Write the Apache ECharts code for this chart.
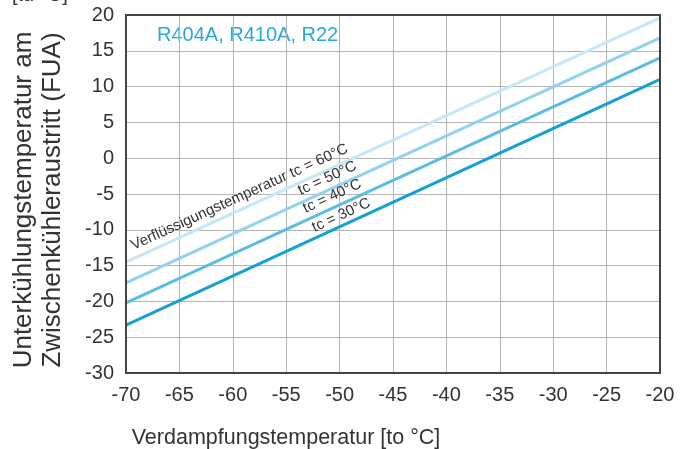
<!DOCTYPE html>
<html><head><meta charset="utf-8">
<script src="https://cdn.jsdelivr.net/npm/echarts@6/dist/echarts.min.js"></script>
<style>html,body{margin:0;padding:0;background:#fff}#c{width:688px;height:449px}</style>
</head><body><div id="c"></div>
<script>
const xValues = [-70, -20];
const tc30 = [-23.3, 11.0];
const tc40 = [-20.2, 14.0];
const tc50 = [-17.4, 16.8];
const tc60 = [-14.5, 19.6];
const seriesNames = ['tc = 30°C', 'tc = 40°C', 'tc = 50°C', 'tc = 60°C'];
const seriesColors = ['#16a0d4', '#5cbde3', '#93d2ee', '#c6e7f5'];
const seriesData = [tc30, tc40, tc50, tc60];

const chart = echarts.init(document.getElementById('c'));
const font = 'Liberation Sans, Arial, sans-serif';
const deg = Math.PI / 180;
const ang = 24.5 * deg;
chart.setOption({
  animation: false,
  backgroundColor: '#fff',
  grid: {left: 126, right: 28, top: 15, bottom: 76, show: false},
  xAxis: {
    type: 'value', min: -70, max: -20, interval: 5,
    axisLine: {show: false}, axisTick: {show: false},
    splitLine: {show: true, lineStyle: {color: '#b5b5b5', width: 1}},
    axisLabel: {color: '#333', fontSize: 20, fontFamily: font, margin: 12}
  },
  yAxis: {
    type: 'value', min: -30, max: 20, interval: 5,
    axisLine: {show: false}, axisTick: {show: false},
    splitLine: {show: true, lineStyle: {color: '#b5b5b5', width: 1}},
    axisLabel: {color: '#333', fontSize: 20, fontFamily: font, margin: 12}
  },
  series: seriesData.map((d, i) => ({
    type: 'line', name: seriesNames[i], showSymbol: false, silent: true,
    data: d.map((v, j) => [xValues[j], v]),
    lineStyle: {color: seriesColors[i], width: 3}, z: 5 - i
  })),
  graphic: [
    {type: 'rect', shape: {x: 126, y: 15, width: 534, height: 358}, style: {fill: 'none', stroke: '#444', lineWidth: 2}, z: 10},
    {type: 'text', x: 12, y: -15, style: {text: '[tu °C]', fill: '#333', font: '20px ' + font}},
    {type: 'text', x: 157, y: 35, style: {text: 'R404A, R410A, R22', fill: '#2aa8dc', font: '20px ' + font, textVerticalAlign: 'middle', verticalAlign: 'middle'}},
    {type: 'text', x: 38, y: 200, rotation: Math.PI / 2,
     style: {text: 'Unterkühlungstemperatur am\nZwischenkühleraustritt (FUA)', fill: '#333', font: '26px ' + font, lineHeight: 29,
             textAlign: 'center', align: 'center', textVerticalAlign: 'middle', verticalAlign: 'middle'}},
    {type: 'text', x: 286, y: 438, style: {text: 'Verdampfungstemperatur [to °C]', fill: '#333', font: '21.5px ' + font,
             textAlign: 'center', align: 'center', textVerticalAlign: 'middle', verticalAlign: 'middle'}},
    {type: 'text', x: 135, y: 253, rotation: ang, z: 20,
     style: {text: 'Verflüssigungstemperatur tc = 60°C', fill: '#333', font: '15px ' + font, textVerticalAlign: 'bottom', verticalAlign: 'bottom'}},
    {type: 'text', x: 302, y: 198, rotation: ang, z: 20,
     style: {text: 'tc = 50°C', fill: '#333', font: '15px ' + font, textVerticalAlign: 'bottom', verticalAlign: 'bottom'}},
    {type: 'text', x: 307, y: 216, rotation: ang, z: 20,
     style: {text: 'tc = 40°C', fill: '#333', font: '15px ' + font, textVerticalAlign: 'bottom', verticalAlign: 'bottom'}},
    {type: 'text', x: 316, y: 235, rotation: ang, z: 20,
     style: {text: 'tc = 30°C', fill: '#333', font: '15px ' + font, textVerticalAlign: 'bottom', verticalAlign: 'bottom'}}
  ]
});
</script></body></html>
